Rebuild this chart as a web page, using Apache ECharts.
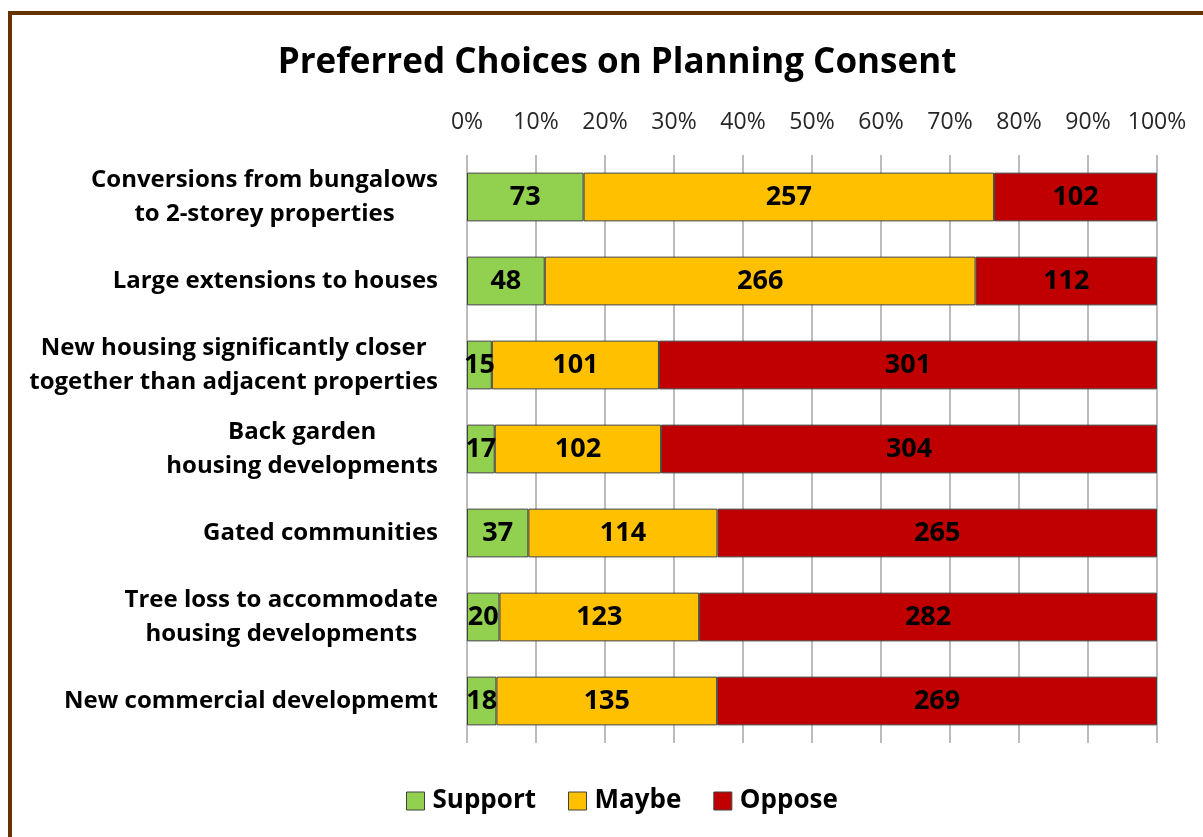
<!DOCTYPE html>
<html>
<head>
<meta charset="utf-8">
<script src="https://cdn.jsdelivr.net/npm/echarts@6/dist/echarts.min.js"></script>
<style>
html,body{margin:0;padding:0;background:#fff;}
#chart{width:1203px;height:837px;}
</style>
</head>
<body>
<div id="chart"></div>
<script>
var categories = [
  "Conversions from bungalows\nto 2-storey properties",
  "Large extensions to houses",
  "New housing significantly closer\ntogether than adjacent properties",
  "Back garden\nhousing developments",
  "Gated communities",
  "Tree loss to accommodate\nhousing developments",
  "New commercial developmemt"
];
var support = [73, 48, 15, 17, 37, 20, 18];
var maybe = [257, 266, 101, 102, 114, 123, 135];
var oppose = [102, 112, 301, 304, 265, 282, 269];
var seriesNames = ["Support", "Maybe", "Oppose"];
var tickLabels = ["0%","10%","20%","30%","40%","50%","60%","70%","80%","90%","100%"];

var FONT = "Open Sans";
var counts = [support, maybe, oppose];
var colors = ["#92D050", "#FFC000", "#C00000"];
var totals = categories.map(function(_, i){ return support[i] + maybe[i] + oppose[i]; });

var series = counts.map(function(arr, s){
  return {
    name: seriesNames[s],
    type: 'bar',
    stack: 'all',
    barCategoryGap: '42%',
    data: arr.map(function(v, i){ return {value: v / totals[i], count: v}; }),
    itemStyle: {color: colors[s], borderColor: '#404040', borderWidth: 1},
    label: {
      show: true,
      position: 'inside',
      color: '#000',
      fontFamily: FONT,
      fontWeight: 'bold',
      fontSize: 27,
      formatter: function(p){ return p.data.count; }
    }
  };
});

var chart = echarts.init(document.getElementById('chart'), null, {renderer: 'canvas'});
chart.setOption({
  backgroundColor: '#fff',
  animation: false,
  graphic: [{
    type: 'rect',
    shape: {x: 10, y: 13, width: 1400, height: 1000},
    style: {fill: 'none', stroke: '#663300', lineWidth: 4},
    silent: true
  }],
  title: {
    text: 'Preferred Choices on Planning Consent',
    left: 612,
    textAlign: 'center',
    top: 41,
    textStyle: {fontFamily: FONT, fontWeight: 'bold', fontSize: 35, color: '#000'}
  },
  legend: {
    bottom: 18,
    left: 401,
    itemWidth: 18,
    itemHeight: 18,
    itemGap: 32,
    icon: 'rect',
    itemStyle: {borderColor: '#404040', borderWidth: 1},
    textStyle: {fontFamily: FONT, fontWeight: 'bold', fontSize: 26, color: '#000', padding: [0,0,0,3]},
    data: seriesNames
  },
  grid: {left: 467, right: 46, top: 155, bottom: 94, containLabel: false},
  xAxis: {
    type: 'value',
    position: 'top',
    min: 0,
    max: 1,
    interval: 0.1,
    axisLine: {show: false},
    axisTick: {show: false},
    splitLine: {show: true, lineStyle: {color: '#a6a6a6', width: 1.5}},
    axisLabel: {
      margin: 21,
      fontFamily: FONT,
      fontSize: 23,
      color: '#262626',
      formatter: function(v){ return tickLabels[Math.round(v * 10)]; }
    }
  },
  yAxis: {
    type: 'category',
    inverse: true,
    data: categories,
    axisLine: {show: false},
    axisTick: {show: false},
    axisLabel: {
      margin: 29,
      formatter: function(v){ return v.split('\n').map(function(l){ return '{c|' + l + '}'; }).join('\n'); },
      rich: {
        c: {align: 'center', fontFamily: FONT, fontWeight: 'bold', fontSize: 24, lineHeight: 34, color: '#000'}
      }
    }
  },
  series: series
});
</script>
</body>
</html>
